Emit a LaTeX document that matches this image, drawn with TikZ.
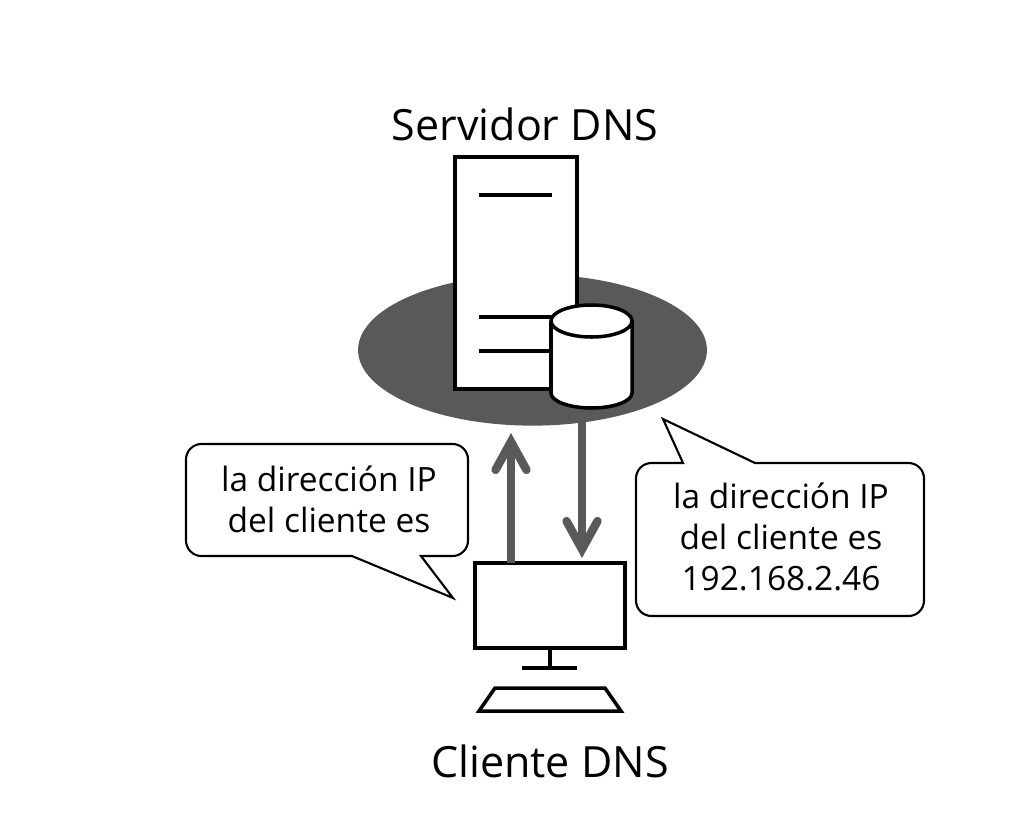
\documentclass[tikz,border=0pt]{standalone}
\usepackage{fontspec}
\setmainfont{Open Sans}
\usetikzlibrary{arrows.meta,shapes.geometric}
\definecolor{discgray}{HTML}{595959}

\tikzset{
  box/.style={draw=black,line width=2.5pt,fill=white,inner sep=0pt},
  part/.style={draw=black,line width=2.5pt},
  bubble/.style={draw=black,line width=1.5pt,fill=white},
  flowarrow/.style={draw=discgray,line width=6pt,-{Straight Barb[length=20pt,width=22pt,line cap=round,line join=miter]}},
  bubbletext/.style={align=center,font=\fontsize{23.8}{29.3}\selectfont},
  title/.style={font=\fontsize{30.6}{37}\selectfont}
}

\begin{document}
\begin{tikzpicture}[x=0.025cm,y=-0.025cm]
\useasboundingbox (0,0) rectangle (1032,817);

% Disc under the server
\node[ellipse,fill=discgray,minimum width=8.72cm,minimum height=3.78cm,inner sep=0pt] (disc) at (532.5,350) {};

% Server
\node[box,minimum width=3.05cm,minimum height=5.8cm] (server) at (516,273) {};
\foreach \y in {195,317,351}
    \draw[part] (479,\y) -- (552,\y);

% Database cylinder
\draw[part,fill=white] (551,321) -- (551,393) arc (180:0:40.5 and 15) -- (632,321);
\draw[part,fill=white] (591.5,321) ellipse (40.5 and 16);

% Client screen and keyboard
\node[box,minimum width=3.75cm,minimum height=2.125cm] (monitor) at (550,605.5) {};
\coordinate (foot) at (550,668);
\draw[part] (monitor.south) -- (foot);
\draw[part] (522,668) -- (577,668);
\draw[part] (495,688) -- (605,688) -- (621,711) -- (479,711) -- cycle;

% Arrows between client and server
\coordinate (upbase) at (511,563);
\coordinate (uptip) at (511,433);
\coordinate (downbase) at (582,422);
\coordinate (downtip) at (582,558);
\draw[flowarrow] (upbase) -- (uptip);
\draw[flowarrow] (downbase) -- (downtip);

% Speech bubbles
\draw[bubble] (421,556) [rounded corners=11pt] -- (468,556) -- (468,444) -- (186,444) -- (186,556) [sharp corners] -- (352,556) -- (453,598) -- (421,556) -- cycle;
\draw[bubble] (683,463) [rounded corners=11pt] -- (636,463) -- (636,616) -- (924,616) -- (924,463) [sharp corners] -- (755,463) -- (663,419) -- (683,463) -- cycle;

\node[bubbletext] (asktext) at (329,499) {la dirección IP\\del cliente es};
\node[bubbletext] (answertext) at (781,537) {la dirección IP\\del cliente es\\192.168.2.46};

% Labels
\node[title] (serverlabel) at (525,124) {Servidor DNS};
\node[title] (clientlabel) at (550,761) {Cliente DNS};

\end{tikzpicture}
\end{document}
